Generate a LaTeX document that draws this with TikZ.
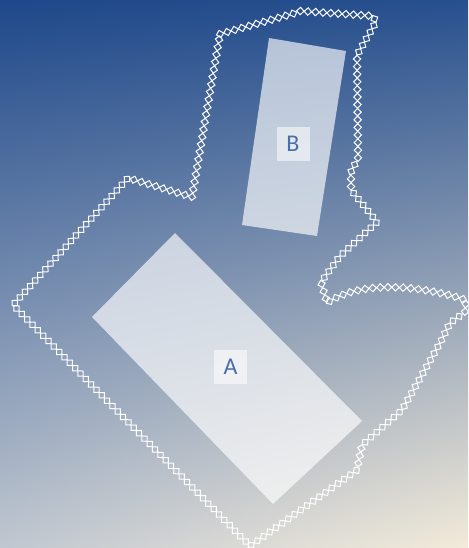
\documentclass[tikz,border=0pt]{standalone}
\usepackage{fontspec}
\setmainfont{Carlito}
\usepackage{tikz}
\usetikzlibrary{decorations.markings, shadings}
\definecolor{skyTop}{RGB}{30,72,138}
\definecolor{skyTopR}{RGB}{40,80,142}
\definecolor{skyLow}{RGB}{192,199,208}
\definecolor{skyLowR}{RGB}{243,235,218}
\definecolor{lblBlue}{RGB}{74,110,168}
\newcommand\Chain{white}

\begin{document}
\begin{tikzpicture}[x=1pt, y=-1pt,
        zone/.style = {fill=white, fill opacity=0.65},
        tag/.style = {fill=white, fill opacity=0.55, text opacity=1, text=lblBlue,
                      minimum width=33pt, minimum height=34pt, inner sep=0pt,
                      font=\fontsize{24}{24}\selectfont},
        chain/.style = {decoration={markings,
                        mark=between positions 0 and 1 step 7.6pt with
                        {\draw[\Chain, line width=1pt] (-3.7pt,0) -- (0,3.7pt) -- (3.7pt,0) -- (0,-3.7pt) -- cycle;}},
                        decorate}]
                \useasboundingbox (0,0) rectangle (468,548);
                \shade [upper left=skyTop, upper right=skyTopR, lower left=skyLow, lower right=skyLowR]
                    (0,0) rectangle (468,548);

                % the two zones
                \fill [zone] (175,233) -- (362,421) -- (273,504) -- (92,317) -- cycle;
                \fill [zone] (269,38) -- (346,51) -- (317,236) -- (242,225) -- cycle;

                \node [tag] (a) at (230.5,367) {A};
                \node [tag] (b) at (293,144) {B};

                % border of the area
                \path [chain] (220,34) -- (292,14) -- (300,11) -- (373,16) -- (376,22) -- (357,55)
                    -- (358,158) -- (351,172) -- (351,190) -- (377,222) -- (340,256) -- (321,282)
                    -- (327,303) .. controls (360,280) and (420,285) .. (466,300)
                    -- (465,312) -- (450,323) -- (440,343) -- (402,410) -- (362,445) -- (357,470)
                    -- (250,546) -- (13,305) -- (128,178) -- (192,197) -- (206,115) -- cycle;
            \end{tikzpicture}
\end{document}
